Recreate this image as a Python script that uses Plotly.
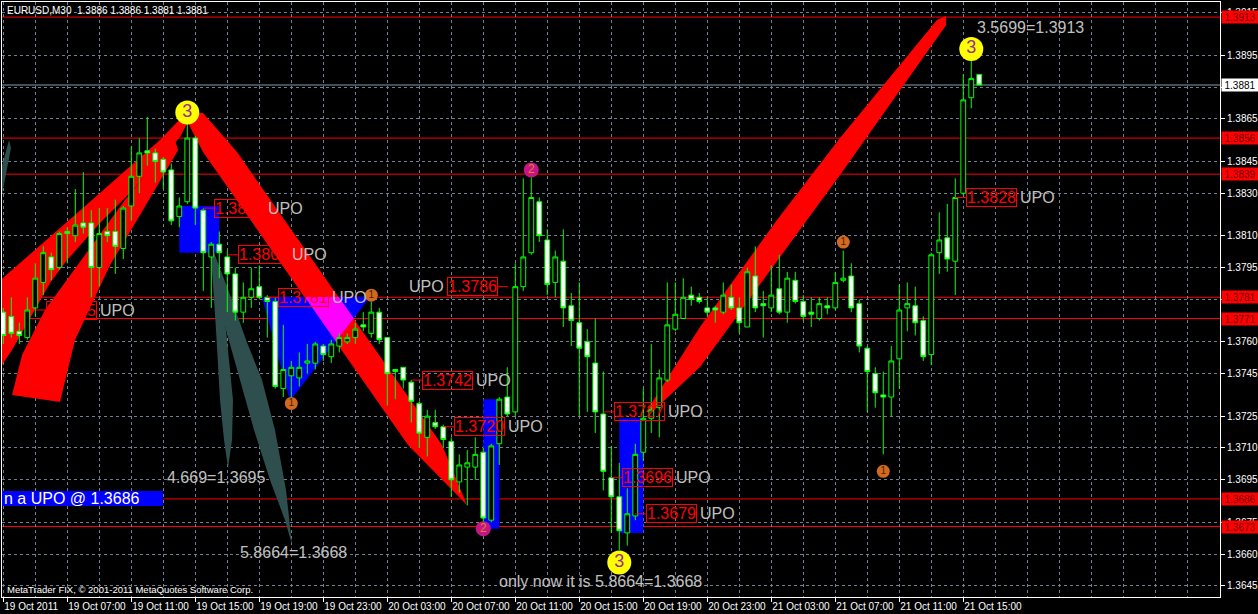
import plotly.graph_objects as go

# ---------------- price data (EURUSD M30, bar index 0 = 19 Oct 03:00) ----------------
bar_index = list(range(123))
opens = [1.3774, 1.3772, 1.3765, 1.3762, 1.3776, 1.3788, 1.3800, 1.3795, 1.3812, 1.3810,
         1.3816, 1.3816, 1.3795, 1.3812, 1.3812, 1.3804, 1.3824, 1.3838, 1.3850, 1.3849,
         1.3846, 1.3841, 1.3819, 1.3826, 1.3856, 1.3822, 1.3800, 1.3806, 1.3800, 1.3792,
         1.3774, 1.3781, 1.3786, 1.3781, 1.3779, 1.3738, 1.3744, 1.3743, 1.3750, 1.3750,
         1.3758, 1.3753, 1.3758, 1.3760, 1.3762, 1.3768, 1.3764, 1.3774, 1.3762, 1.3747,
         1.3748, 1.3741, 1.3731, 1.3715, 1.3722, 1.3720, 1.3713, 1.3694, 1.3701, 1.3701,
         1.3708, 1.3676, 1.3712, 1.3734, 1.3727, 1.3786, 1.3802, 1.3826, 1.3808, 1.3788,
         1.3798, 1.3777, 1.3769, 1.3760, 1.3750, 1.3726, 1.3696, 1.3687, 1.3670, 1.3678,
         1.3708, 1.3724, 1.3729, 1.3742, 1.3766, 1.3771, 1.3782, 1.3781, 1.3776, 1.3776,
         1.3774, 1.3781, 1.3776, 1.3767, 1.3791, 1.3778, 1.3776, 1.3785, 1.3774, 1.3789,
         1.3779, 1.3774, 1.3771, 1.3777, 1.3776, 1.3789, 1.3791, 1.3778, 1.3757, 1.3745,
         1.3735, 1.3734, 1.3752, 1.3776, 1.3777, 1.3770, 1.3754, 1.3802, 1.3809, 1.3798,
         1.3830, 1.3875, 1.3886]
highs = [1.3776, 1.3781, 1.3769, 1.3781, 1.3797, 1.3805, 1.3802, 1.3812, 1.3814, 1.3832,
         1.3840, 1.3822, 1.3823, 1.3823, 1.3827, 1.3824, 1.3852, 1.3856, 1.3866, 1.3851,
         1.3847, 1.3844, 1.3828, 1.3864, 1.3857, 1.3823, 1.3807, 1.3812, 1.3803, 1.3795,
         1.3788, 1.3795, 1.3796, 1.3782, 1.3781, 1.3768, 1.3751, 1.3755, 1.3759, 1.3760,
         1.3759, 1.3761, 1.3764, 1.3764, 1.3769, 1.3774, 1.3779, 1.3776, 1.3762, 1.3747,
         1.3748, 1.3742, 1.3732, 1.3728, 1.3728, 1.3721, 1.3715, 1.3707, 1.3709, 1.3715,
         1.3710, 1.3712, 1.3734, 1.3748, 1.3797, 1.3837, 1.3838, 1.3828, 1.3813, 1.3803,
         1.3813, 1.3783, 1.3788, 1.3766, 1.3771, 1.3746, 1.3711, 1.3703, 1.3691, 1.3712,
         1.3738, 1.3759, 1.3747, 1.3788, 1.3788, 1.3790, 1.3786, 1.3783, 1.3781, 1.3777,
         1.3788, 1.3787, 1.3781, 1.3795, 1.3805, 1.3784, 1.3796, 1.3801, 1.3793, 1.3793,
         1.3782, 1.3781, 1.3781, 1.3781, 1.3793, 1.3803, 1.3797, 1.3780, 1.3758, 1.3748,
         1.3746, 1.3758, 1.3787, 1.3788, 1.3786, 1.3772, 1.3802, 1.3821, 1.3825, 1.3837,
         1.3886, 1.3893, 1.3886]
lows = [1.3759, 1.3762, 1.3759, 1.3761, 1.3772, 1.3782, 1.3789, 1.3794, 1.3797, 1.3807,
        1.3811, 1.3781, 1.3786, 1.3807, 1.3792, 1.3799, 1.3817, 1.3830, 1.3843, 1.3835,
        1.3832, 1.3815, 1.3814, 1.3825, 1.3815, 1.3784, 1.3776, 1.3790, 1.3774, 1.3770,
        1.3769, 1.3776, 1.3780, 1.3762, 1.3738, 1.3734, 1.3733, 1.3739, 1.3745, 1.3747,
        1.3751, 1.3750, 1.3755, 1.3759, 1.3759, 1.3765, 1.3762, 1.3759, 1.3730, 1.3733,
        1.3738, 1.3722, 1.3710, 1.3706, 1.3719, 1.3710, 1.3687, 1.3689, 1.3683, 1.3695,
        1.3674, 1.3675, 1.3702, 1.3725, 1.3725, 1.3784, 1.3801, 1.3807, 1.3782, 1.3781,
        1.3767, 1.3758, 1.3725, 1.3727, 1.3717, 1.3690, 1.3670, 1.3662, 1.3664, 1.3676,
        1.3704, 1.3717, 1.3715, 1.3741, 1.3765, 1.3771, 1.3777, 1.3778, 1.3772, 1.3769,
        1.3773, 1.3775, 1.3764, 1.3767, 1.3774, 1.3762, 1.3774, 1.3773, 1.3769, 1.3778,
        1.3770, 1.3767, 1.3770, 1.3773, 1.3775, 1.3788, 1.3774, 1.3755, 1.3727, 1.3729,
        1.3707, 1.3725, 1.3738, 1.3765, 1.3763, 1.3751, 1.3749, 1.3792, 1.3793, 1.3782,
        1.3829, 1.3870, 1.3881]
closes = [1.3763, 1.3764, 1.3763, 1.3775, 1.3790, 1.3802, 1.3794, 1.3811, 1.3811, 1.3815,
          1.3814, 1.3795, 1.3811, 1.3810, 1.3805, 1.3823, 1.3838, 1.3849, 1.3849, 1.3845,
          1.3840, 1.3817, 1.3824, 1.3856, 1.3823, 1.3802, 1.3806, 1.3802, 1.3792, 1.3774,
          1.3781, 1.3785, 1.3781, 1.3779, 1.3739, 1.3747, 1.3748, 1.3748, 1.3751, 1.3759,
          1.3754, 1.3759, 1.3762, 1.3762, 1.3766, 1.3767, 1.3774, 1.3761, 1.3745, 1.3746,
          1.3742, 1.3732, 1.3717, 1.3725, 1.3720, 1.3714, 1.3695, 1.3702, 1.3703, 1.3707,
          1.3677, 1.3711, 1.3733, 1.3726, 1.3786, 1.3800, 1.3828, 1.3810, 1.3787, 1.3800,
          1.3776, 1.3770, 1.3757, 1.3753, 1.3727, 1.3699, 1.3687, 1.3671, 1.3679, 1.3707,
          1.3724, 1.3728, 1.3743, 1.3768, 1.3773, 1.3781, 1.3780, 1.3779, 1.3774, 1.3775,
          1.3782, 1.3776, 1.3769, 1.3793, 1.3776, 1.3777, 1.3782, 1.3774, 1.3790, 1.3779,
          1.3772, 1.3773, 1.3778, 1.3776, 1.3788, 1.3790, 1.3776, 1.3758, 1.3746, 1.3736,
          1.3734, 1.3751, 1.3775, 1.3778, 1.3769, 1.3753, 1.3801, 1.3808, 1.3799, 1.3828,
          1.3874, 1.3884, 1.3881]

# time axis labels (every 8 bars)
tick_bars = list(range(0, 121, 8))
tick_labels = ["19 Oct 2011", "19 Oct 07:00", "19 Oct 11:00", "19 Oct 15:00", "19 Oct 19:00",
               "19 Oct 23:00", "20 Oct 03:00", "20 Oct 07:00", "20 Oct 11:00", "20 Oct 15:00",
               "20 Oct 19:00", "20 Oct 23:00", "21 Oct 03:00", "21 Oct 07:00", "21 Oct 11:00",
               "21 Oct 15:00"]
price_ticks = [1.3915, 1.3895, 1.3880, 1.3865, 1.3845, 1.3830, 1.3810, 1.3795, 1.3780,
               1.3760, 1.3745, 1.3725, 1.3710, 1.3695, 1.3675, 1.3660, 1.3645]

# horizontal lines
red_levels = [1.3913, 1.3856, 1.3839, 1.3781, 1.3771, 1.3686, 1.3673]
bid_level = 1.3881

# drawn objects (bar index, price)
band1a_x = [-1.04, 12.09, 19.59, 22.84, 23.34, 22.09, 16.21, 12.09, 7.96, 5.84, 1.09, -1.04]
band1a_y = [1.37868, 1.38301, 1.38551, 1.38678, 1.38654, 1.38565, 1.38315, 1.38160, 1.37985,
            1.37877, 1.37562, 1.37444]
band1b_x = [1.09, 2.34, 5.21, 10.21, 15.21, 21.46, 21.84, 17.09, 13.34, 8.96, 7.09]
band1b_y = [1.37350, 1.37538, 1.37750, 1.38009, 1.38268, 1.38551, 1.38503, 1.38197, 1.37962,
            1.37609, 1.37317]
band2_x = [22.46, 24.96, 29.21, 54.84, 57.96, 50.59, 24.96]
band2_y = [1.38678, 1.38678, 1.38494, 1.37114, 1.36831, 1.37114, 1.38494]
band3_x = [80.34, 87.09, 96.71, 104.59, 116.71, 117.84, 117.84, 104.59, 100.46, 87.09, 81.09]
band3_y = [1.37269, 1.37670, 1.38174, 1.38560, 1.39116, 1.39135, 1.39092, 1.38386, 1.38174,
           1.37481, 1.37269]
tri_x = [32.34, 45.84, 35.84]
tri_y = [1.37811, 1.37811, 1.37321]
overlap_x = [37.69, 41.94, 43.80, 41.57]
overlap_y = [1.37811, 1.37811, 1.37711, 1.37602]
spindle1_x = [25.96, 26.84, 27.84, 28.71, 28.59, 28.09, 27.59, 27.09, 26.59, 26.09]
spindle1_y = [1.38056, 1.37938, 1.37656, 1.37326, 1.37138, 1.37006, 1.37138, 1.37326, 1.37656, 1.37938]
spindle2_x = [26.21, 28.59, 30.34, 32.34, 33.96, 35.34, 36.09, 35.21, 33.34, 31.34, 29.59, 27.84, 26.34]
spindle2_y = [1.38033, 1.37797, 1.37609, 1.37420, 1.37185, 1.36902, 1.36643, 1.36761, 1.36949,
              1.37185, 1.37420, 1.37656, 1.37915]
tail_x = [-0.29, 0.71, 0.96, -0.29]
tail_y = [1.38409, 1.38551, 1.38513, 1.38268]
rect_x0 = [22, 60, 77]
rect_x1 = [27, 62, 80]
rect_y0 = [1.3802, 1.3672, 1.3670]
rect_y1 = [1.3824, 1.3733, 1.3724]
info_box = dict(x0=-1, x1=19.96, y0=1.36827, y1=1.36897)
info_text = "n a UPO @ 1.3686"

# UPO labels
upo_values = [1.3775, 1.3823, 1.3801, 1.3781, 1.3786, 1.3742, 1.3720, 1.3727, 1.3696, 1.3679, 1.3828]
upo_bars = [5, 26, 29, 34, 62, 52, 56, 76, 77, 80, 120]
upo_side = ["r", "r", "r", "r", "l", "r", "r", "r", "r", "r", "r"]

# pivot circles
c3_bars, c3_prices = [23, 77, 121], [1.3868, 1.3656, 1.3898]
c1_bars, c1_prices = [36, 46, 105, 110], [1.3731, 1.3782, 1.3807, 1.3699]
c2_bars, c2_prices = [66, 60], [1.3841, 1.3672]

# free texts
texts = [("3.5699=1.3913", 121.5, 1.3908), ("4.669=1.3695", 20.2, 1.3696),
         ("5.8664=1.3668", 29.3, 1.3661), ("only now it is 5.8664=1.3668", 61.7, 1.3647)]

# ---------------- figure ----------------
FONT = "Liberation Sans, Arial, sans-serif"
GRID = "#708090"
RED = "#FF0000"
SILVER = "#C0C0C0"

fig = go.Figure()
shapes = []


def poly(xs, ys, color):
    path = "M " + " L ".join(f"{x},{y}" for x, y in zip(xs, ys)) + " Z"
    return dict(type="path", path=path, xref="x", yref="y", fillcolor=color,
                line=dict(width=0), layer="between")


shapes.append(poly(band1a_x, band1a_y, RED))
shapes.append(poly(band1b_x, band1b_y, RED))
shapes.append(poly(band2_x, band2_y, RED))
shapes.append(poly(band3_x, band3_y, RED))
shapes.append(poly(spindle1_x, spindle1_y, "#2F4F4F"))
shapes.append(poly(spindle2_x, spindle2_y, "#2F4F4F"))
shapes.append(poly(tail_x, tail_y, "#2F4F4F"))
for x0, x1, y0, y1 in zip(rect_x0, rect_x1, rect_y0, rect_y1):
    shapes.append(dict(type="rect", xref="x", yref="y", x0=x0, x1=x1, y0=y0, y1=y1,
                       fillcolor="#0000FF", line=dict(width=0), layer="between"))
shapes.append(dict(type="rect", xref="x", yref="y", fillcolor="#0000FF", line=dict(width=0),
                   layer="between", **info_box))
shapes.append(poly(tri_x, tri_y, "#0000FF"))
shapes.append(poly(overlap_x, overlap_y, "#FF00FF"))
for lv in red_levels:
    shapes.append(dict(type="line", xref="paper", yref="y", x0=0, x1=1, y0=lv, y1=lv,
                       line=dict(color=RED, width=1), layer="between"))
shapes.append(dict(type="line", xref="paper", yref="y", x0=0, x1=1, y0=bid_level, y1=bid_level,
                   line=dict(color="#8A9AAA", width=1), layer="between"))

# candles
fig.add_trace(go.Candlestick(
    x=bar_index, open=opens, high=highs, low=lows, close=closes,
    increasing=dict(line=dict(color="#00FF00", width=1), fillcolor="#000000"),
    decreasing=dict(line=dict(color="#00FF00", width=1), fillcolor="#FFFFFF"),
    whiskerwidth=0, showlegend=False, hoverinfo="skip"))

# UPO connectors
cx, cy = [], []
for b, v, s in zip(upo_bars, upo_values, upo_side):
    if s == "r":
        cx += [b - 1, b + 0.34, None]
    else:
        cx += [b - 0.16, b + 1.1, None]
    cy += [v, v, None]
fig.add_trace(go.Scatter(x=cx, y=cy, mode="lines", line=dict(color=RED, width=1),
                         showlegend=False, hoverinfo="skip"))

# circles
fig.add_trace(go.Scatter(x=c3_bars, y=c3_prices, mode="markers+text", text=["3"] * len(c3_bars),
                         textposition="middle center",
                         textfont=dict(color="#9A2B9A", size=18, family=FONT),
                         marker=dict(size=24, color="#FFFF00", line=dict(width=0)),
                         showlegend=False, hoverinfo="skip"))
fig.add_trace(go.Scatter(x=c1_bars, y=c1_prices, mode="markers+text", text=["1"] * len(c1_bars),
                         textposition="middle center",
                         textfont=dict(color="#4A2200", size=10, family=FONT),
                         marker=dict(size=13, color="#D2691E", line=dict(width=0)),
                         showlegend=False, hoverinfo="skip"))
fig.add_trace(go.Scatter(x=c2_bars, y=c2_prices, mode="markers+text", text=["2"] * len(c2_bars),
                         textposition="middle center",
                         textfont=dict(color="#D8842A", size=12, family=FONT),
                         marker=dict(size=15, color="#C71585", line=dict(width=0)),
                         showlegend=False, hoverinfo="skip"))

annotations = []
# UPO boxes
for b, v, s in zip(upo_bars, upo_values, upo_side):
    if s == "r":
        annotations.append(dict(x=b + 0.34, y=v, xref="x", yref="y", text=f"{v:.4f}",
                                xanchor="left", yanchor="middle", showarrow=False,
                                font=dict(color=RED, size=16, family=FONT),
                                bordercolor=RED, borderwidth=1, borderpad=0))
        annotations.append(dict(x=b + 0.34, y=v, xref="x", yref="y", text="UPO", xshift=52,
                                xanchor="left", yanchor="middle", showarrow=False,
                                font=dict(color=SILVER, size=16, family=FONT)))
    else:
        annotations.append(dict(x=b - 0.16, y=v, xref="x", yref="y", text=f"{v:.4f}",
                                xanchor="right", yanchor="middle", showarrow=False,
                                font=dict(color=RED, size=16, family=FONT),
                                bordercolor=RED, borderwidth=1, borderpad=0))
        annotations.append(dict(x=b - 0.16, y=v, xref="x", yref="y", text="UPO", xshift=-52,
                                xanchor="right", yanchor="middle", showarrow=False,
                                font=dict(color=SILVER, size=16, family=FONT)))

for t, x, y in texts:
    annotations.append(dict(x=x, y=y, xref="x", yref="y", text=t, xanchor="left",
                            yanchor="middle", showarrow=False,
                            font=dict(color=SILVER, size=16, family=FONT)))

annotations.append(dict(x=0, y=(info_box["y0"] + info_box["y1"]) / 2, xref="paper", yref="y",
                        text=info_text, xanchor="left", yanchor="middle", showarrow=False,
                        font=dict(color="#FFFFFF", size=16, family=FONT)))

# right axis price labels of the lines
for lv in red_levels:
    annotations.append(dict(x=1, y=lv, xref="paper", yref="y", text=f"{lv:.4f}", xanchor="left",
                            yanchor="middle", xshift=1, showarrow=False, width=36, height=12,
                            bgcolor=RED, borderpad=0,
                            font=dict(color="#6A0000", size=10, family=FONT)))
annotations.append(dict(x=1, y=bid_level, xref="paper", yref="y", text=f"{bid_level:.4f}",
                        xanchor="left", yanchor="middle", xshift=1, showarrow=False, width=36,
                        height=12, bgcolor="#FFFFFF", borderpad=0,
                        font=dict(color="#000000", size=10, family=FONT)))

# header and footer
annotations.append(dict(x=0, y=1, xref="paper", yref="paper", xshift=3, yshift=-8,
                        text="EURUSD,M30  1.3886 1.3886 1.3881 1.3881", xanchor="left",
                        yanchor="middle", showarrow=False,
                        font=dict(color="#FFFFFF", size=10, family=FONT)))
annotations.append(dict(x=0, y=0, xref="paper", yref="paper", xshift=3, yshift=8,
                        text="MetaTrader FIX, © 2001-2011 MetaQuotes Software Corp.",
                        xanchor="left", yanchor="middle", showarrow=False,
                        font=dict(color="#FFFFFF", size=9.5, family=FONT)))

minor_grid = [v for v in range(4, 153, 4) if v not in tick_bars]

fig.update_layout(
    template="none",
    width=1258, height=614, autosize=False,
    margin=dict(l=2, r=38, t=2, b=17, pad=0),
    paper_bgcolor="#000000", plot_bgcolor="#000000",
    showlegend=False, boxgap=0.4, boxgroupgap=0,
    shapes=shapes, annotations=annotations,
    xaxis=dict(range=[-0.1625, 152.09], tickmode="array", tickvals=tick_bars,
               ticktext=tick_labels, ticks="outside", ticklen=4, tickcolor="#FFFFFF",
               ticklabelposition="outside right", tickangle=0, automargin=False,
               tickfont=dict(color="#FFFFFF", size=10, family=FONT),
               showgrid=True, gridcolor=GRID, gridwidth=1, griddash="3px,3px",
               minor=dict(tickvals=minor_grid, showgrid=True, gridcolor=GRID, gridwidth=1,
                          griddash="3px,3px", ticks=""),
               showline=True, linecolor="#FFFFFF", linewidth=1, mirror=True,
               zeroline=False, rangeslider=dict(visible=False), fixedrange=True),
    yaxis=dict(side="right", range=[1.36398, 1.39201], tickmode="array", tickvals=price_ticks,
               ticktext=[f"{v:.4f}" for v in price_ticks], ticks="outside", ticklen=4,
               tickcolor="#FFFFFF", tickfont=dict(color="#FFFFFF", size=10, family=FONT),
               automargin=False,
               showgrid=True, gridcolor=GRID, gridwidth=1, griddash="3px,3px",
               showline=True, linecolor="#FFFFFF", linewidth=1, mirror=True,
               zeroline=False, fixedrange=True),
)

fig.write_html("out.html", config=dict(displayModeBar=False),
               post_script="document.body.style.margin='0';document.body.style.overflow='hidden';")
